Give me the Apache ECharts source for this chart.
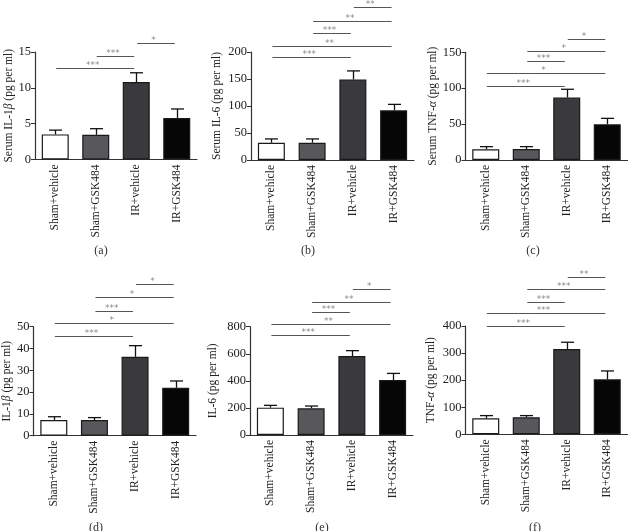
<!DOCTYPE html>
<html>
<head>
<meta charset="utf-8">
<script src="https://cdn.jsdelivr.net/npm/echarts@6/dist/echarts.min.js"></script>
<style>
  html, body { margin: 0; padding: 0; background: #fff; }
  #chart { width: 628px; height: 531px; }
</style>
</head>
<body>
<div id="chart"></div>
<script>
const categories = ["Sham+vehicle", "Sham+GSK484", "IR+vehicle", "IR+GSK484"];
const barColors = ["#ffffff", "#58585c", "#3a3a3e", "#060606"];

// mean and top of error bar (mean + SEM)
const serumIL1bMean = [3.5, 3.45, 10.8, 5.8];
const serumIL1bUpper = [4.1, 4.3, 12.1, 7.05];
const serumIL6Mean = [32, 32, 149, 92];
const serumIL6Upper = [39, 39, 165, 103];
const serumTNFMean = [15, 15.3, 87, 49.7];
const serumTNFUpper = [18.6, 18.6, 98.5, 58];
const il1bMean = [7.2, 7.2, 36.2, 22];
const il1bUpper = [8.7, 8.3, 41.3, 25.1];
const il6Mean = [202, 197, 583, 406];
const il6Upper = [219, 214, 623, 455];
const tnfMean = [59, 63, 315, 203];
const tnfUpper = [69, 69, 340, 234];

// significance brackets: [from group, to group, height, stars]
const serumIL1bSig = [[0, 2, 12.7, "***"], [1, 2, 14.45, "***"], [2, 3, 16.3, "*"]];
const serumIL6Sig = [[0, 2, 191, "***"], [0, 3, 212, "**"], [1, 2, 235, "***"], [1, 3, 258, "**"], [2, 3, 283, "**"]];
const serumTNFSig = [[0, 2, 103.5, "***"], [0, 3, 120.7, "*"], [1, 2, 137.9, "***"], [1, 3, 151.8, "*"], [2, 3, 168.5, "*"]];
const il1bSig = [[0, 2, 45.9, "***"], [0, 3, 51.8, "*"], [1, 2, 57.3, "***"], [1, 3, 63.8, "*"], [2, 3, 69.6, "*"]];
const il6Sig = [[0, 2, 738, "***"], [0, 3, 820, "**"], [1, 2, 906, "***"], [1, 3, 985, "**"], [2, 3, 1078, "*"]];
const tnfSig = [[0, 2, 400, "***"], [0, 3, 449, "***"], [1, 2, 490, "***"], [1, 3, 535, "***"], [2, 3, 580, "**"]];

const yMax = [15, 200, 150, 50, 800, 400];
const yStep = [5, 50, 50, 10, 200, 100];
const yNames = [
  "Serum IL-1{i|β} (pg per ml)",
  "Serum IL-6 (pg per ml)",
  "Serum TNF-{i|α} (pg per ml)",
  "IL-1{i|β} (pg per ml)",
  "IL-6 (pg per ml)",
  "TNF-{i|α} (pg per ml)",
];
const captions = ["(a)", "(b)", "(c)", "(d)", "(e)", "(f)"];

const panels = [
  { mean: serumIL1bMean, upper: serumIL1bUpper, sig: serumIL1bSig },
  { mean: serumIL6Mean, upper: serumIL6Upper, sig: serumIL6Sig },
  { mean: serumTNFMean, upper: serumTNFUpper, sig: serumTNFSig },
  { mean: il1bMean, upper: il1bUpper, sig: il1bSig },
  { mean: il6Mean, upper: il6Upper, sig: il6Sig },
  { mean: tnfMean, upper: tnfUpper, sig: tnfSig },
];

// layout of the six plots
const grids = [
  { left: 35, top: 52, width: 162, height: 107.5 },
  { left: 251, top: 52, width: 163, height: 108 },
  { left: 465.5, top: 52.3, width: 162, height: 107.7 },
  { left: 33, top: 326.7, width: 163, height: 109 },
  { left: 250, top: 326.7, width: 163, height: 108.3 },
  { left: 465.5, top: 326, width: 162, height: 108.3 },
];
const nameGaps = [18.5, 28.5, 27, 20.5, 31.5, 29];
const captionPos = [[96, 240], [303, 240], [528, 240], [91, 517], [317, 517], [530, 517]];

const serif = "'Liberation Serif', 'Times New Roman', serif";
const axisColor = "#333";

function makeErrorRender(mean, upper) {
  return function (params, api) {
    const i = params.dataIndex;
    const base = api.coord([i, mean[i]]);
    const top = api.coord([i, upper[i]]);
    const x = Math.round(base[0]) + 0.5;
    return {
      type: "group",
      children: [
        { type: "line", shape: { x1: x, y1: base[1], x2: x, y2: top[1] }, style: { stroke: "#111", lineWidth: 1.3 } },
        { type: "line", shape: { x1: x - 6.5, y1: top[1], x2: x + 6.5, y2: top[1] }, style: { stroke: "#111", lineWidth: 1.3 } },
      ],
    };
  };
}

function makeSigRender(sig) {
  return function (params, api) {
    const s = sig[params.dataIndex];
    const a = api.coord([s[0], s[2]]);
    const b = api.coord([s[1], s[2]]);
    const y = Math.round(a[1]) + 0.5;
    return {
      type: "group",
      children: [
        { type: "line", shape: { x1: a[0] + 1, y1: y, x2: b[0] - 2, y2: y }, style: { stroke: "#555", lineWidth: 1 } },
        {
          type: "text",
          x: (a[0] + b[0]) / 2 - 3,
          y: y + 2,
          style: { text: s[3], textAlign: "center", textVerticalAlign: "bottom", fill: "#8a8a8a", font: "9px 'DejaVu Sans'" },
        },
      ],
    };
  };
}

const option = {
  backgroundColor: "#ffffff",
  animation: false,
  title: captions.map((c, k) => ({
    text: c,
    left: captionPos[k][0],
    top: captionPos[k][1],
    textAlign: "center",
    textStyle: { fontFamily: serif, fontSize: 12, fontWeight: "normal", color: "#333" },
  })),
  grid: grids,
  xAxis: grids.map((g, k) => ({
    type: "category",
    gridIndex: k,
    data: categories,
    axisLine: { lineStyle: { color: axisColor, width: 1.2 } },
    axisTick: { alignWithLabel: true, length: 3, lineStyle: { color: axisColor } },
    axisLabel: { rotate: 90, margin: 5, fontFamily: serif, fontSize: 11.5, color: "#222" },
  })),
  yAxis: grids.map((g, k) => ({
    type: "value",
    gridIndex: k,
    min: 0,
    max: yMax[k],
    interval: yStep[k],
    splitLine: { show: false },
    axisLine: { show: true, lineStyle: { color: axisColor, width: 1.2 } },
    axisTick: { show: true, length: 4, lineStyle: { color: axisColor } },
    axisLabel: { margin: 4, fontFamily: serif, fontSize: 12.5, color: "#222" },
    name: yNames[k],
    nameLocation: "middle",
    nameGap: nameGaps[k],
    nameRotate: 90,
    nameTextStyle: {
      fontFamily: serif,
      fontSize: 11.5,
      color: "#222",
      rich: { i: { fontFamily: serif, fontStyle: "italic", fontSize: 11.5, color: "#222" } },
    },
  })),
  series: panels.flatMap((p, k) => [
    {
      type: "bar",
      xAxisIndex: k,
      yAxisIndex: k,
      barWidth: 27,
      data: p.mean.map((v, i) => ({
        value: v,
        itemStyle: { color: barColors[i], borderColor: "#1a1a1a", borderWidth: 1.2 },
      })),
      z: 2,
    },
    {
      type: "custom",
      xAxisIndex: k,
      yAxisIndex: k,
      renderItem: makeErrorRender(p.mean, p.upper),
      data: p.mean.map((v, i) => [i, p.upper[i]]),
      clip: false,
      z: 1,
    },
    {
      type: "custom",
      xAxisIndex: k,
      yAxisIndex: k,
      renderItem: makeSigRender(p.sig),
      data: p.sig.map((s) => [s[0], s[2]]),
      clip: false,
      z: 3,
    },
  ]),
};

const chart = echarts.init(document.getElementById("chart"), null, { renderer: "canvas" });
chart.setOption(option);
</script>
</body>
</html>
